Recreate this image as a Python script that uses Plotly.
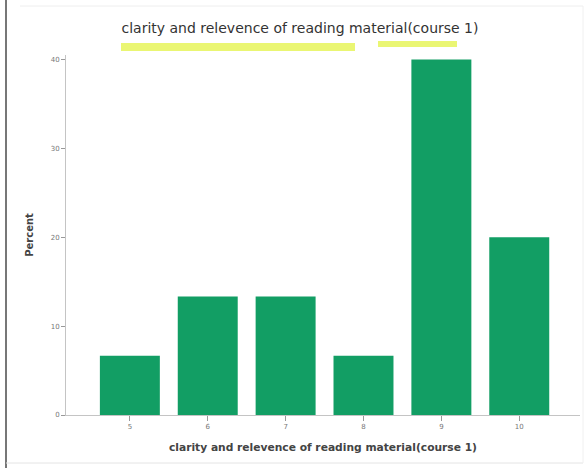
import plotly.graph_objects as go

# clarity and relevence of reading material (course 1) -- percent of responses
scores = ["5", "6", "7", "8", "9", "10"]
percent = [6.67, 13.33, 13.33, 6.67, 40.0, 20.0]
y_ticks = [0, 10, 20, 30, 40]

title_text = "clarity and relevence of reading material(course 1)"

fig = go.Figure(
    go.Bar(
        x=scores,
        y=percent,
        marker=dict(color="#129e64", line=dict(width=0)),
        width=0.77,
    )
)

# plot area spans x 66..580, y 55..415 in pixels
W, L, T, H = 514, 66, 55, 360


def px_x(p):
    return (p - L) / W


def px_y(p):
    return (T + H - p) / H


shapes = [
    # highlighter strokes under the title
    dict(type="rect", xref="paper", yref="paper",
         x0=px_x(121), x1=px_x(355), y0=px_y(51), y1=px_y(43),
         fillcolor="#e6f55a", line=dict(width=0), opacity=0.85, layer="below"),
    dict(type="rect", xref="paper", yref="paper",
         x0=px_x(378), x1=px_x(457), y0=px_y(47), y1=px_y(41),
         fillcolor="#e6f55a", line=dict(width=0), opacity=0.85, layer="below"),
    # scanned frame edges
    dict(type="line", xref="paper", yref="paper",
         x0=px_x(6), x1=px_x(6), y0=px_y(0), y1=px_y(468),
         line=dict(color="#777777", width=2)),
    dict(type="line", xref="paper", yref="paper",
         x0=px_x(20), x1=px_x(583), y0=px_y(6), y1=px_y(6),
         line=dict(color="#eeeeee", width=1)),
    dict(type="line", xref="paper", yref="paper",
         x0=px_x(6), x1=px_x(583), y0=px_y(463), y1=px_y(463),
         line=dict(color="#e4e4e4", width=1)),
    dict(type="line", xref="paper", yref="paper",
         x0=px_x(583), x1=px_x(583), y0=px_y(6), y1=px_y(463),
         line=dict(color="#f0f0f0", width=1)),
]

fig.update_layout(
    width=585,
    height=468,
    margin=dict(l=L, r=585 - L - W, t=T, b=468 - T - H),
    paper_bgcolor="white",
    plot_bgcolor="white",
    font=dict(family="DejaVu Sans, Verdana, sans-serif", color="#555555"),
    showlegend=False,
    shapes=shapes,
    title=dict(
        text=title_text,
        x=300 / 585,
        xanchor="center",
        y=1 - 28 / 468,
        yanchor="middle",
        font=dict(size=14, color="#333333"),
    ),
    xaxis=dict(
        type="category",
        range=[-0.82, 5.78],
        showline=True,
        linecolor="#c4c4c4",
        linewidth=1,
        ticks="outside",
        ticklen=5,
        tickcolor="#999999",
        tickfont=dict(size=7, color="#777777"),
        showgrid=False,
        zeroline=False,
        title=dict(
            text="<b>clarity and relevence of reading material(course 1)</b>",
            font=dict(size=10.7, color="#444444"),
            standoff=13,
        ),
    ),
    yaxis=dict(
        range=[0, 40.5],
        tickvals=y_ticks,
        showline=True,
        linecolor="#c4c4c4",
        linewidth=1,
        ticks="outside",
        ticklen=4,
        tickcolor="#999999",
        tickfont=dict(size=7, color="#777777"),
        showgrid=False,
        zeroline=False,
        title=dict(
            text="<b>Percent</b>",
            font=dict(size=10, color="#444444"),
            standoff=15,
        ),
    ),
)

# drop the browser's default body margin so the figure sits at the page corner
fig.write_html(
    "out.html",
    config={"displayModeBar": False},
    post_script="document.body.style.margin = '0';",
)
